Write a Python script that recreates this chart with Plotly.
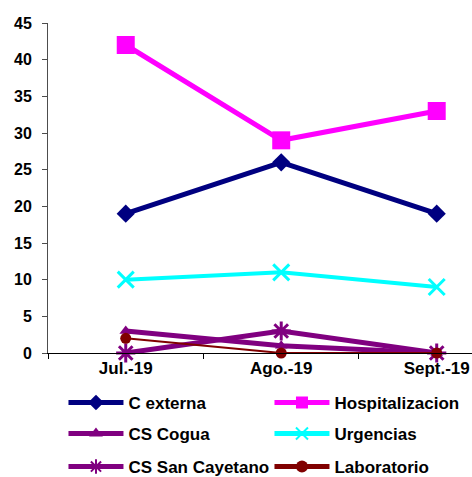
import plotly.graph_objects as go

months = ["Jul.-19", "Ago.-19", "Sept.-19"]

c_externa = [19, 26, 19]
hospitalizacion = [42, 29, 33]
cs_cogua = [3, 1, 0]
urgencias = [10, 11, 9]
cs_san_cayetano = [0, 3, 0]
laboratorio = [2, 0, 0]

series = [
    ("C externa", c_externa, "#000080", 5, dict(symbol="diamond", size=14), "legend"),
    ("Hospitalizacion", hospitalizacion, "#FF00FF", 5, dict(symbol="square", size=18), "legend"),
    ("CS Cogua", cs_cogua, "#800080", 5, dict(symbol="triangle-up", size=11), "legend2"),
    ("Urgencias", urgencias, "#00FFFF", 4,
     dict(symbol="x-thin-open", size=16, line=dict(width=3, color="#00FFFF")), "legend2"),
    ("CS San Cayetano", cs_san_cayetano, "#800080", 5,
     dict(symbol="asterisk-open", size=16, line=dict(width=3, color="#800080")), "legend3"),
    ("Laboratorio", laboratorio, "#800000", 2, dict(symbol="circle", size=11), "legend3"),
]

fig = go.Figure()
for name, vals, color, lw, mk, lg in series:
    fig.add_trace(go.Scatter(
        x=months, y=vals, name=name, mode="lines+markers",
        line=dict(color=color, width=lw),
        marker=dict(color=color, **mk),
        cliponaxis=False, legend=lg,
    ))

FAMILY = "Liberation Sans, Arial, sans-serif"
legend_common = dict(
    orientation="h", xanchor="left", yanchor="middle", x=0.0365,
    font=dict(family=FAMILY, size=17, color="#000000", weight="bold"),
    bgcolor="rgba(0,0,0,0)", borderwidth=0,
    entrywidth=136, entrywidthmode="pixels", itemwidth=55, itemsizing="constant",
)

fig.update_layout(
    width=472, height=477,
    margin=dict(l=48, r=0, t=23, b=124, autoexpand=False),
    paper_bgcolor="white", plot_bgcolor="white",
    font=dict(family=FAMILY, size=14, color="#000000"),
    showlegend=True,
    legend=dict(legend_common, y=-0.1515),
    legend2=dict(legend_common, y=-0.2455),
    legend3=dict(legend_common, y=-0.3455),
    xaxis=dict(
        range=[-0.5, 2.227], showgrid=False, zeroline=False,
        showline=True, linecolor="#000000", linewidth=1,
        ticks="outside", tickson="boundaries", ticklen=5, tickcolor="#000000",
        tickfont=dict(size=17, weight="bold"),
    ),
    yaxis=dict(
        range=[0, 45], dtick=5, showgrid=False, zeroline=False,
        showline=True, linecolor="#4d4d4d", linewidth=1,
        ticks="outside", ticklen=5, tickcolor="#4d4d4d",
        ticklabelstandoff=7,
        tickfont=dict(size=16, weight="bold"),
    ),
)

fig.write_html("out.html")
